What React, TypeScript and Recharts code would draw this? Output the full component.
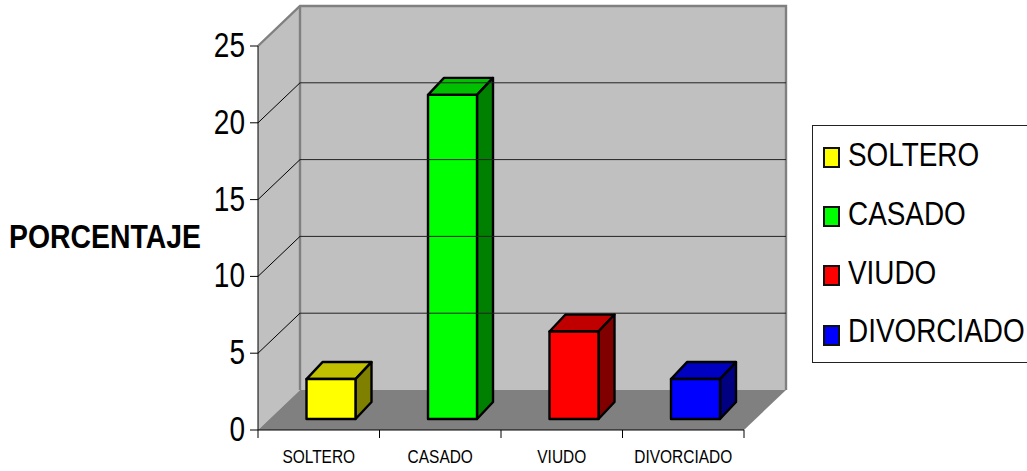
import React from "react";
import {
  Bar,
  BarChart,
  Legend,
  ReferenceArea,
  ReferenceLine,
  XAxis,
  YAxis,
} from "recharts";

const categories = ["SOLTERO", "CASADO", "VIUDO", "DIVORCIADO"];
const percentages = [2.6, 21.1, 5.7, 2.6];
const yTicks = [0, 5, 10, 15, 20, 25];
const gridValues = [5, 10, 15, 20];

const frontColors = ["#FFFF00", "#00FF00", "#FF0000", "#0000FF"];
const topColors = ["#C0C000", "#00C000", "#C00000", "#0000C0"];
const sideColors = ["#808000", "#008000", "#800000", "#000080"];

const chartData = categories.map((category, i) => ({
  category,
  value: percentages[i],
}));

const FONT = '"Liberation Sans", Arial, sans-serif';

const CHART_WIDTH = 1027;
const CHART_HEIGHT = 471;
const LEGEND_WIDTH = 215;
const MARGIN_RIGHT = 68;
const Y_AXIS_WIDTH = 258;
// Width of one category slot, used to put the ticks on the slot boundaries.
const BAND = (CHART_WIDTH - LEGEND_WIDTH - MARGIN_RIGHT - Y_AXIS_WIDTH) / categories.length;

// Oblique offset from the front plane of the box to its back wall.
const WALL_DX = 42;
const WALL_DY = -40;
// Each bar stands part way into the floor and has its own shallower depth.
const BAR_INSET_DX = 12.5;
const BAR_INSET_DY = -11;
const BAR_DX = 16;
const BAR_DY = -17;

const pts = (list: number[][]) => list.map((p) => p.join(",")).join(" ");

// Back wall, side wall and floor of the oblique box around the plot area.
function BoxWalls({ x, y, width, height }: any) {
  const left = x;
  const right = x + width;
  const top = y;
  const bottom = y + height;
  const bx = WALL_DX;
  const by = WALL_DY;
  return (
    <g>
      <polygon
        points={pts([
          [left + bx, top + by],
          [right + bx, top + by],
          [right + bx, bottom + by],
          [left + bx, bottom + by],
        ])}
        fill="#C0C0C0"
      />
      <polygon
        points={pts([
          [left, top],
          [left + bx, top + by],
          [left + bx, bottom + by],
          [left, bottom],
        ])}
        fill="#C0C0C0"
      />
      <polygon
        points={pts([
          [left, bottom],
          [right, bottom],
          [right + bx, bottom + by],
          [left + bx, bottom + by],
        ])}
        fill="#808080"
      />
      <polyline
        points={pts([
          [left, top],
          [left + bx, top + by],
          [right + bx, top + by],
          [right + bx, bottom + by],
        ])}
        fill="none"
        stroke="#808080"
        strokeWidth={2.4}
      />
      <line
        x1={left + bx}
        y1={top + by}
        x2={left + bx}
        y2={bottom + by}
        stroke="#808080"
        strokeWidth={2.4}
      />
    </g>
  );
}

// Gridline at one value: slanted across the side wall, level across the back wall.
function WallGridLine({ x1, y1, x2 }: any) {
  const backY = y1 + WALL_DY;
  return (
    <g>
      <line x1={x1} y1={y1} x2={x1 + WALL_DX} y2={backY} stroke="#000000" strokeWidth={1} />
      <line
        x1={x1 + WALL_DX}
        y1={backY}
        x2={x2 + WALL_DX}
        y2={backY}
        stroke="#222222"
        strokeWidth={1}
      />
    </g>
  );
}

// Oblique prism built from the rectangle the bar series computes.
function PrismBar({ x, y, width, height, index }: any) {
  const l = x + BAR_INSET_DX;
  const r = l + width;
  const t = y + BAR_INSET_DY;
  const b = t + height;
  const stroke = { stroke: "#000000", strokeWidth: 2.4, strokeLinejoin: "round" as const };
  return (
    <g>
      <polygon
        points={pts([
          [l, t],
          [r, t],
          [r + BAR_DX, t + BAR_DY],
          [l + BAR_DX, t + BAR_DY],
        ])}
        fill={topColors[index]}
        {...stroke}
      />
      <polygon
        points={pts([
          [r, t],
          [r + BAR_DX, t + BAR_DY],
          [r + BAR_DX, b + BAR_DY],
          [r, b],
        ])}
        fill={sideColors[index]}
        {...stroke}
      />
      <rect x={l} y={t} width={width} height={height} fill={frontColors[index]} {...stroke} />
    </g>
  );
}

// Category label, plus tick marks on the slot boundaries rather than the slot centre.
// The lettering is horizontally condensed, so it is scaled on x only.
function CategoryTick({ x, y, payload, index, tickTop }: any) {
  const top = tickTop;
  return (
    <g>
      <line x1={x - BAND / 2} y1={top} x2={x - BAND / 2} y2={top + 8} stroke="#000" strokeWidth={1} />
      {index === categories.length - 1 && (
        <line x1={x + BAND / 2} y1={top} x2={x + BAND / 2} y2={top + 8} stroke="#000" strokeWidth={1} />
      )}
      <text
        transform={`translate(${x},${top + 33}) scale(0.86,1)`}
        textAnchor="middle"
        fontFamily={FONT}
        fontSize={18}
        fill="#000"
      >
        {payload.value}
      </text>
    </g>
  );
}

function ValueTick({ x, y, payload }: any) {
  return (
    <text
      transform={`translate(${x},${y + 11}) scale(0.8,1)`}
      textAnchor="end"
      fontFamily={FONT}
      fontSize={35}
      fill="#000"
    >
      {payload.value}
    </text>
  );
}

function AxisTitle({ viewBox }: any) {
  const cy = viewBox.y + viewBox.height / 2;
  return (
    <text
      transform={`translate(9,${cy + 10}) scale(0.835,1)`}
      fontFamily={FONT}
      fontSize={34}
      fontWeight={700}
      fill="#000"
    >
      PORCENTAJE
    </text>
  );
}

function LegendBox() {
  return (
    <div
      style={{
        position: "relative",
        width: LEGEND_WIDTH,
        height: 238,
        boxSizing: "border-box",
        borderLeft: "1px solid #222",
        borderTop: "1px solid #222",
        borderBottom: "1px solid #222",
        background: "#fff",
        fontFamily: FONT,
        fontSize: 34,
        color: "#000",
        overflow: "hidden",
      }}
    >
      {categories.map((name, i) => (
        <div key={name}>
          <div
            style={{
              position: "absolute",
              left: 10,
              top: 21 + i * 59.2,
              width: 17,
              height: 21,
              boxSizing: "border-box",
              border: "2px solid #111",
              background: frontColors[i],
            }}
          />
          <div
            style={{
              position: "absolute",
              left: 35,
              top: 8 + i * 58.8,
              lineHeight: "40px",
              whiteSpace: "nowrap",
              transform: "scaleX(0.82)",
              transformOrigin: "left center",
            }}
          >
            {name}
          </div>
        </div>
      ))}
    </div>
  );
}

export default function App() {
  return (
    <div style={{ position: "absolute", left: 0, top: 0, width: CHART_WIDTH, height: CHART_HEIGHT, background: "#fff" }}>
      <BarChart
        width={CHART_WIDTH}
        height={CHART_HEIGHT}
        data={chartData}
        margin={{ top: 46, right: MARGIN_RIGHT, bottom: 0, left: 0 }}
        barCategoryGap={0}
      >
        <ReferenceArea
          y1={0}
          y2={25}
          shape={BoxWalls}
          ifOverflow="visible"
          fill="none"
          stroke="none"
        />
        {gridValues.map((v) => (
          <ReferenceLine key={v} y={v} ifOverflow="visible" shape={WallGridLine} />
        ))}
        <XAxis
          dataKey="category"
          height={41}
          interval={0}
          tickLine={false}
          axisLine={{ stroke: "#000", strokeWidth: 1 }}
          tick={(props: any) => <CategoryTick {...props} tickTop={CHART_HEIGHT - 41} />}
        />
        <YAxis
          width={Y_AXIS_WIDTH}
          domain={[0, 25]}
          ticks={yTicks}
          interval={0}
          tickSize={8}
          tickMargin={5}
          axisLine={{ stroke: "#000", strokeWidth: 1 }}
          tickLine={{ stroke: "#000", strokeWidth: 1 }}
          tick={ValueTick}
          label={<AxisTitle />}
        />
        <Legend
          layout="vertical"
          align="right"
          verticalAlign="top"
          width={LEGEND_WIDTH}
          wrapperStyle={{ position: "absolute", left: 812, top: 125, right: "auto" }}
          content={<LegendBox />}
        />
        <Bar dataKey="value" barSize={49} shape={PrismBar} isAnimationActive={false} />
      </BarChart>
    </div>
  );
}
